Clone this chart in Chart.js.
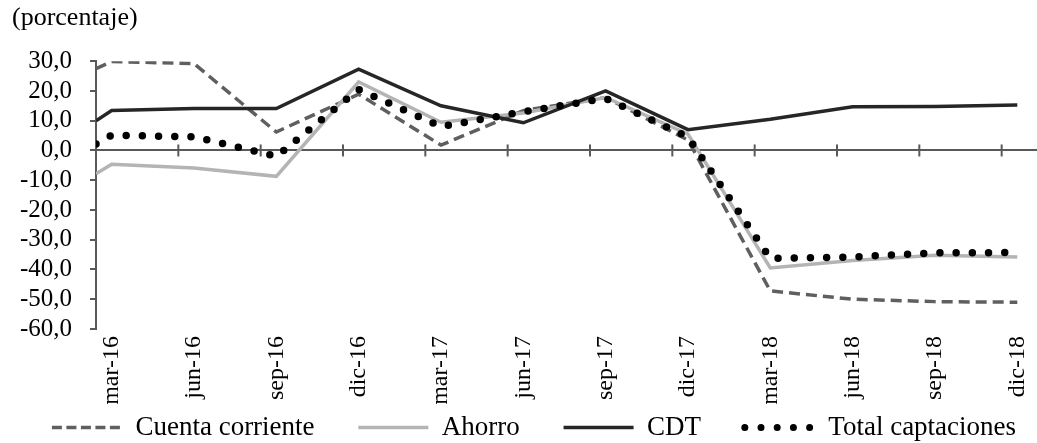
<!DOCTYPE html>
<html>
<head>
<meta charset="utf-8">
<script src="https://cdn.jsdelivr.net/npm/chart.js@4/dist/chart.umd.min.js"></script>
<style>
  html, body { margin: 0; padding: 0; background: #fff; overflow: hidden; }
  #contenedor { position: relative; width: 1060px; height: 443px; }
</style>
</head>
<body>
<div id="contenedor"><canvas id="grafico"></canvas></div>
<script>
// Trimestres del eje x
const trimestres = ['mar-16', 'jun-16', 'sep-16', 'dic-16', 'mar-17', 'jun-17',
                    'sep-17', 'dic-17', 'mar-18', 'jun-18', 'sep-18', 'dic-18'];

// La serie arranca un poco antes de mar-16 (primer dato, en fracción de trimestre)
const inicio = -0.19;
const posiciones = [inicio].concat(trimestres.map((t, i) => i));

// Variación anual (%), primer valor = dato inicial
const cuentaCorriente = [27.5, 29.9, 29.2, 6.2, 18.9, 1.8, 13.4, 17.8, 3.5, -47.2, -50.0, -50.8, -51.0];
const ahorro          = [-7.8, -4.6, -5.9, -8.7, 23.0, 9.5, 12.6, 17.8, 5.5, -39.5, -37.0, -35.2, -35.8];
const cdt             = [10.0, 13.4, 14.1, 14.1, 27.3, 15.0, 9.3, 20.0, 7.0, 10.5, 14.7, 14.8, 15.3];
const totalCaptaciones = [2.2, 5.1, 4.6, -2.0, 20.5, 8.0, 13.0, 17.5, 4.5, -36.3, -35.8, -34.4, -34.3];

function serie(valores) {
    return valores.map((v, i) => ({ x: posiciones[i], y: v }));
}

Chart.defaults.font.family = "'Liberation Serif', 'Times New Roman', serif";
Chart.defaults.color = '#000';

// marcas del eje x sobre la línea del cero
const marcasCero = {
    id: 'marcasCero',
    beforeDatasetsDraw(chart) {
        const ejeX = chart.scales.x;
        const y0 = chart.scales.y.getPixelForValue(0);
        const ctx = chart.ctx;
        ctx.save();
        ctx.strokeStyle = '#595959';
        ctx.lineWidth = 2;
        ejeX.ticks.forEach(t => {
            const px = ejeX.getPixelForValue(t.value + inicio);
            ctx.beginPath();
            ctx.moveTo(px, y0 - 6);
            ctx.lineTo(px, y0 + 6);
            ctx.stroke();
        });
        ctx.restore();
    }
};

const ctx = document.getElementById('grafico').getContext('2d');
new Chart(ctx, {
    type: 'line',
    data: {
        datasets: [
            {
                label: 'Cuenta corriente',
                data: serie(cuentaCorriente),
                borderColor: '#5f5f5f',
                backgroundColor: '#5f5f5f',
                borderWidth: 3.5,
                borderDash: [11, 6],
                pointRadius: 0,
                tension: 0,
                order: 3
            },
            {
                label: 'Ahorro',
                data: serie(ahorro),
                borderColor: '#b4b4b4',
                backgroundColor: '#b4b4b4',
                borderWidth: 3.5,
                pointRadius: 0,
                tension: 0,
                order: 2
            },
            {
                label: 'CDT',
                data: serie(cdt),
                borderColor: '#262626',
                backgroundColor: '#262626',
                borderWidth: 3.5,
                pointRadius: 0,
                tension: 0,
                order: 1
            },
            {
                label: 'Total captaciones',
                data: serie(totalCaptaciones),
                borderColor: '#000',
                backgroundColor: '#000',
                borderWidth: 7.5,
                borderDash: [0, 16.2],
                borderCapStyle: 'round',
                pointRadius: 0,
                tension: 0,
                order: 0
            }
        ]
    },
    options: {
        responsive: true,
        maintainAspectRatio: false,
        animation: false,
        layout: {
            padding: { left: 12, right: 4, top: 0, bottom: -8 }
        },
        plugins: {
            title: {
                display: true,
                text: '(porcentaje)',
                align: 'start',
                font: { size: 26, weight: 'normal' },
                padding: { top: 3, bottom: 27 }
            },
            legend: {
                position: 'bottom',
                labels: {
                    usePointStyle: true,
                    pointStyle: 'line',
                    pointStyleWidth: 70,
                    padding: 10,
                    font: { size: 27 },
                    color: '#000',
                    sort: (a, b) => a.datasetIndex - b.datasetIndex,
                    generateLabels: function(chart) {
                        const items = Chart.defaults.plugins.legend.labels.generateLabels(chart);
                        items.forEach(item => {
                            const ds = chart.data.datasets[item.datasetIndex];
                            item.lineDash = item.datasetIndex === 0 ? [10, 4.5] : (ds.borderDash || []);
                            item.lineWidth = item.datasetIndex === 3 ? 7 : ds.borderWidth;
                            item.lineCap = ds.borderCapStyle || 'butt';
                            item.strokeStyle = ds.borderColor;
                            if (item.datasetIndex < 3) item.text += '     ';
                        });
                        return items;
                    }
                }
            },
            tooltip: { enabled: false }
        },
        scales: {
            x: {
                type: 'linear',
                min: inicio,
                max: 11.47,
                afterBuildTicks: function(scale) {
                    scale.ticks = trimestres.map((t, i) => ({ value: i }));
                },
                afterFit: function(scale) {
                    scale.height = 75;
                },
                ticks: {
                    autoSkip: false,
                    minRotation: 90,
                    maxRotation: 90,
                    padding: 7,
                    font: { size: 24 },
                    callback: function(value, index) {
                        return trimestres[index];
                    }
                },
                grid: { display: false, drawTicks: false },
                border: { display: false }
            },
            y: {
                min: -60,
                max: 30,
                afterFit: function(scale) {
                    scale.width = 84;
                },
                ticks: {
                    stepSize: 10,
                    autoSkip: false,
                    maxTicksLimit: 20,
                    padding: 18,
                    font: { size: 25 },
                    callback: function(value) {
                        return value.toFixed(1).replace('.', ',');
                    }
                },
                grid: {
                    color: c => c.tick.value === 0 ? '#595959' : 'transparent',
                    tickColor: '#595959',
                    tickLength: 6,
                    lineWidth: 2
                },
                border: { color: '#595959', width: 2 }
            }
        }
    },
    plugins: [marcasCero]
});
</script>
</body>
</html>
